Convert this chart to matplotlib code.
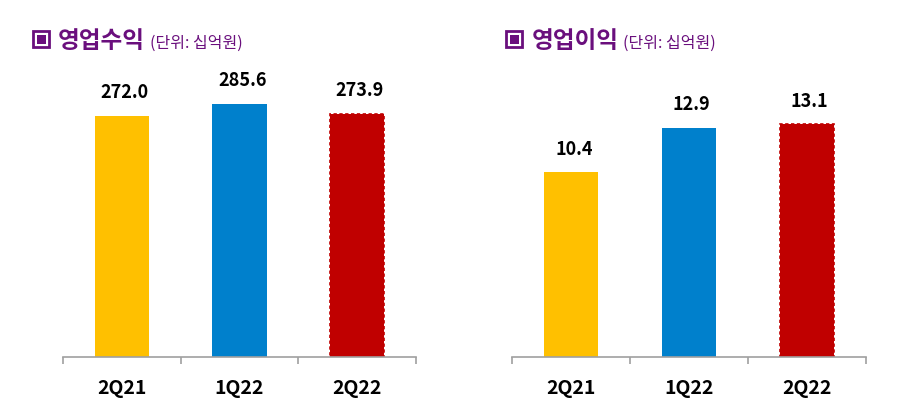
import matplotlib.pyplot as plt
from matplotlib.patches import Rectangle

plt.rcParams['font.family'] = ['Noto Sans CJK KR', 'DejaVu Sans']

categories = ['2Q21', '1Q22', '2Q22']
revenue = [272.0, 285.6, 273.9]
op_income = [10.4, 12.9, 13.1]
colors = ['#FFC000', '#0080CC', '#C00000']

W, H = 901, 403
fig = plt.figure(figsize=(W / 100, H / 100), dpi=100)

purple = '#6A0F7D'


def px_axes(x0, x1, y_top, y_base):
    return fig.add_axes([x0 / W, (H - y_base) / H, (x1 - x0) / W, (y_base - y_top) / H])


def draw(ax, values, ymax):
    bars = ax.bar(range(len(categories)), values, width=0.46, color=colors)
    last = bars[-1]
    last.set_edgecolor('#C00000')
    last.set_linestyle((0, (2, 1.5)))
    last.set_linewidth(1.2)
    for b, v in zip(bars, values):
        ax.annotate(f'{v:.1f}', (b.get_x() + b.get_width() / 2, v),
                    xytext=(2, 10), textcoords='offset points',
                    ha='center', va='bottom', fontsize=13, fontweight='bold')
    ax.set_xlim(-0.5, 2.5)
    ax.set_ylim(0, ymax)
    for s in ['top', 'right', 'left']:
        ax.spines[s].set_visible(False)
    ax.spines['bottom'].set_color('#A0A0A0')
    ax.spines['bottom'].set_linewidth(1.2)
    ax.set_yticks([])
    ax.set_xticks([-0.5, 0.5, 1.5, 2.5])
    ax.set_xticklabels([])
    ax.tick_params(axis='x', which='major', length=5, width=1.2, color='#A0A0A0')
    ax.set_xticks([0, 1, 2], minor=True)
    ax.set_xticklabels(categories, minor=True, fontsize=14, fontweight='bold')
    ax.tick_params(axis='x', which='minor', length=0, pad=16)


ax1 = px_axes(63, 416, 60, 357)
draw(ax1, revenue, 297 / 0.8875)
ax2 = px_axes(512, 866, 60, 357)
draw(ax2, op_income, 297 / 17.75)


def square_icon(x0, y0, size=18):
    # outer outline plus filled inner square, pixel coords from top-left
    fig.patches.append(Rectangle(((x0 + 1.3) / W, (H - y0 - size + 1.3) / H),
                                 (size - 2.6) / W, (size - 2.6) / H,
                                 transform=fig.transFigure, fill=False,
                                 edgecolor=purple, linewidth=2))
    fig.patches.append(Rectangle(((x0 + 4.5) / W, (H - y0 - size + 4.5) / H),
                                 (size - 9) / W, (size - 9) / H,
                                 transform=fig.transFigure, facecolor=purple,
                                 edgecolor='none'))


base_y = (H - 48) / H
for x_sq, x_t, x_s, title in [(32, 58, 150, '영업수익'), (505, 532, 623, '영업이익')]:
    square_icon(x_sq, 30)
    fig.text(x_t / W, base_y, title, fontsize=17, fontweight='heavy', color=purple,
             va='baseline', ha='left')
    fig.text(x_s / W, base_y, '(단위: 십억원)', fontsize=11.5, color=purple,
             va='baseline', ha='left')

fig.savefig('out.png', dpi=100)
